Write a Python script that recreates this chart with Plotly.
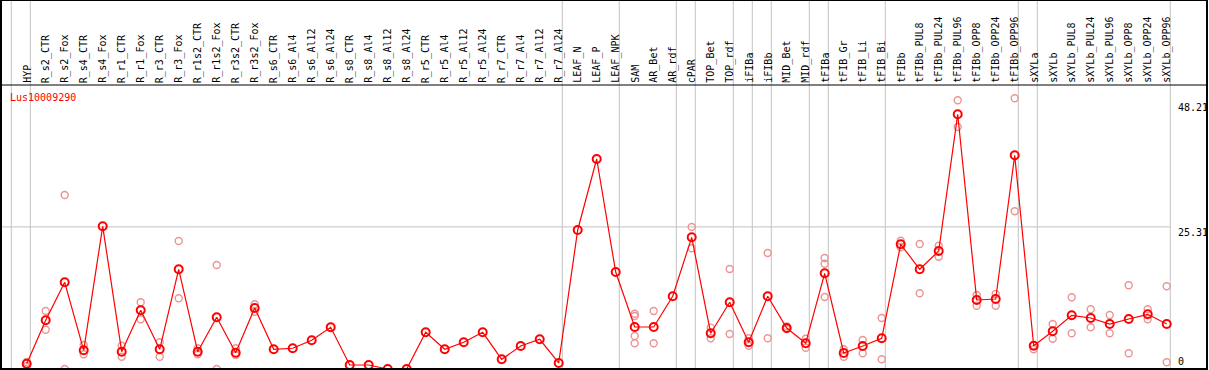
import plotly.graph_objects as go

# ---------------- data ----------------
gene_name = "Lus10009290"

categories = [
    "HYP",
    "R_s2_CTR", "R_s2_Fox", "R_s4_CTR", "R_s4_Fox", "R_r1_CTR", "R_r1_Fox",
    "R_r3_CTR", "R_r3_Fox", "R_r1s2_CTR", "R_r1s2_Fox", "R_r3s2_CTR", "R_r3s2_Fox",
    "R_s6_CTR", "R_s6_Al4", "R_s6_Al12", "R_s6_Al24",
    "R_s8_CTR", "R_s8_Al4", "R_s8_Al12", "R_s8_Al24",
    "R_r5_CTR", "R_r5_Al4", "R_r5_Al12", "R_r5_Al24",
    "R_r7_CTR", "R_r7_Al4", "R_r7_Al12", "R_r7_Al24",
    "LEAF_N", "LEAF_P", "LEAF_NPK",
    "SAM", "AR_Bet", "AR_rdf",
    "cPAR",
    "TOP_Bet", "TOP_rdf",
    "iFIBa",
    "iFIBb",
    "MID_Bet", "MID_rdf",
    "tFIBa",
    "tFIB_Gr", "tFIB_Li", "tFIB_Bi",
    "tFIBb", "tFIBb_PUL8", "tFIBb_PUL24", "tFIBb_PUL96",
    "tFIBb_OPP8", "tFIBb_OPP24", "tFIBb_OPP96",
    "sXYLa",
    "sXYLb", "sXYLb_PUL8", "sXYLb_PUL24", "sXYLb_PUL96",
    "sXYLb_OPP8", "sXYLb_OPP24", "sXYLb_OPP96",
]

# sizes of the column groups separated by grey vertical rules
group_sizes = [1, 28, 3, 3, 1, 2, 1, 1, 2, 1, 3, 7, 1, 7]

mean_values = [
    0.94,
    8.67, 15.44, 3.33, 25.41, 3.08, 10.45,
    3.51, 17.76, 3.08, 9.21, 2.90, 10.86,
    3.51, 3.69, 5.11, 7.43,
    0.71, 0.71, 0.0, 0.0,
    6.54, 3.51, 4.76, 6.54,
    1.73, 4.10, 5.29, 1.07,
    24.76, 37.40, 17.27,
    7.48, 7.48, 12.95,
    23.45,
    6.36, 11.88,
    4.76,
    12.95,
    7.30, 4.58,
    17.04,
    2.85, 4.10, 5.47,
    22.21, 17.76, 21.02, 45.36,
    12.29, 12.47, 38.06,
    4.15,
    6.71, 9.56, 9.08, 8.01,
    8.90, 9.74, 8.01,
]

# individual replicate values per category (empty where none shown)
replicate_values = [
    [1.25, 0.53],
    [10.33, 7.00], [30.99, 0.0], [4.27, 2.62], [], [4.15, 2.19], [11.88, 8.85],
    [4.76, 2.19], [22.80, 12.59], [3.69, 2.62], [18.52, 0.0], [3.69, 2.49], [11.52, 10.20],
    [], [], [], [],
    [], [], [], [],
    [], [], [], [],
    [], [], [], [],
    [], [], [],
    [9.85, 9.44, 5.88, 4.58], [10.33, 4.58], [],
    [25.29, 21.50],
    [7.36, 5.47], [17.81, 6.23],
    [5.47, 4.15],
    [20.66, 5.47],
    [7.12, 7.60], [5.40, 3.79],
    [19.77, 18.75, 12.82],
    [3.51, 2.19], [5.16, 2.80], [9.08, 1.73],
    [22.85, 21.67], [22.26, 13.48], [21.96, 20.00], [47.85, 43.10],
    [13.18, 11.27], [13.36, 11.27], [48.21, 28.09],
    [3.51, 4.20],
    [8.01, 5.40], [12.77, 6.36], [10.63, 7.43], [9.62, 6.36],
    [14.91, 2.80], [10.63, 8.85], [14.73, 1.19],
]

y_tick_values = [0, 25.31, 48.21]
y_tick_labels = ["0", "25.31", "48.21"]
grid_value = 25.31

# ---------------- layout geometry ----------------
W, H = 1209, 370
ML, MR, MT, MB = 1, 2, 85, 1
PW, PH = W - ML - MR, H - MT - MB
COL = 19.0             # px per column
FIRST = 26.7           # px of first column centre
PX_PER_UNIT = 5.615    # px per y unit
x_lo = -(FIRST - ML) / COL
x_hi = x_lo + PW / COL
y_hi = PH / PX_PER_UNIT
RULE_OFF = 0.19        # rule sits a little right of the last column of a group

def paper_y(py):
    return (H - MB - py) / PH

def paper_x(px):
    return (px - ML) / PW

FONT = "DejaVu Sans Mono"
RED = "#ff0000"
PINK = "#ec9494"
GREY = "#c3c3c3"

idx = list(range(len(categories)))

fig = go.Figure()

# replicates
rx, ry = [], []
for i, reps in enumerate(replicate_values):
    for v in reps:
        rx.append(i)
        ry.append(v)
fig.add_trace(go.Scatter(
    x=rx, y=ry, mode="markers",
    marker=dict(symbol="circle-open", size=7, color=PINK, line=dict(width=1.4, color=PINK)),
    hoverinfo="skip", showlegend=False,
))

# mean line
fig.add_trace(go.Scatter(
    x=idx, y=mean_values, mode="lines+markers",
    line=dict(color=RED, width=1.2),
    marker=dict(symbol="circle-open", size=8, color=RED, line=dict(width=2, color=RED)),
    text=categories, hovertemplate="%{text}: %{y}<extra></extra>",
    showlegend=False,
))

shapes = []
top_paper = 1 + MT / PH
# group rules
bounds = [-1]
acc = -1
for g in group_sizes:
    acc += g
    bounds.append(acc)
for b in bounds:
    shapes.append(dict(type="line", xref="x", yref="paper", x0=b + RULE_OFF, x1=b + RULE_OFF,
                       y0=0, y1=top_paper, line=dict(color=GREY, width=1), layer="below"))
# horizontal grid line
shapes.append(dict(type="line", xref="paper", yref="y", x0=0, x1=(bounds[-1] + RULE_OFF - x_lo) / (x_hi - x_lo),
                   y0=grid_value, y1=grid_value, line=dict(color=GREY, width=1), layer="below"))
# separator between header and plot
shapes.append(dict(type="line", xref="paper", yref="paper", x0=0, x1=1, y0=1, y1=1,
                   line=dict(color="black", width=1)))
# outer frame
shapes.append(dict(type="rect", xref="paper", yref="paper", x0=0, x1=1, y0=0, y1=top_paper,
                   line=dict(color="black", width=2)))

annotations = []
for i, c in enumerate(categories):
    annotations.append(dict(
        x=i, y=1, xref="x", yref="paper", text=c, showarrow=False,
        textangle=-90, xanchor="center", yanchor="bottom", yshift=1,
        font=dict(family=FONT, size=10, color="black"), borderpad=0,
    ))
annotations.append(dict(
    x=paper_x(9), y=paper_y(97), xref="paper", yref="paper", text=gene_name,
    showarrow=False, xanchor="left", yanchor="middle",
    font=dict(family=FONT, size=10, color=RED), borderpad=0,
))
tick_label_px = {"0": 361.8, "25.31": 232.5, "48.21": 107.0}
for v, t in zip(y_tick_values, y_tick_labels):
    annotations.append(dict(
        x=paper_x(1177), y=paper_y(tick_label_px[t]), xref="paper", yref="paper", text=t,
        showarrow=False, xanchor="left", yanchor="middle",
        font=dict(family=FONT, size=10, color="black"), borderpad=0,
    ))

fig.update_layout(
    width=W, height=H,
    margin=dict(l=ML, r=MR, t=MT, b=MB, pad=0),
    paper_bgcolor="white", plot_bgcolor="white",
    xaxis=dict(range=[x_lo, x_hi], visible=False, fixedrange=True),
    yaxis=dict(range=[0, y_hi], visible=False, fixedrange=True),
    shapes=shapes, annotations=annotations,
    showlegend=False,
)

fig.write_html(
    "out.html",
    config={"displayModeBar": False},
    post_script="document.body.style.margin='0';document.body.style.overflow='hidden';",
)
